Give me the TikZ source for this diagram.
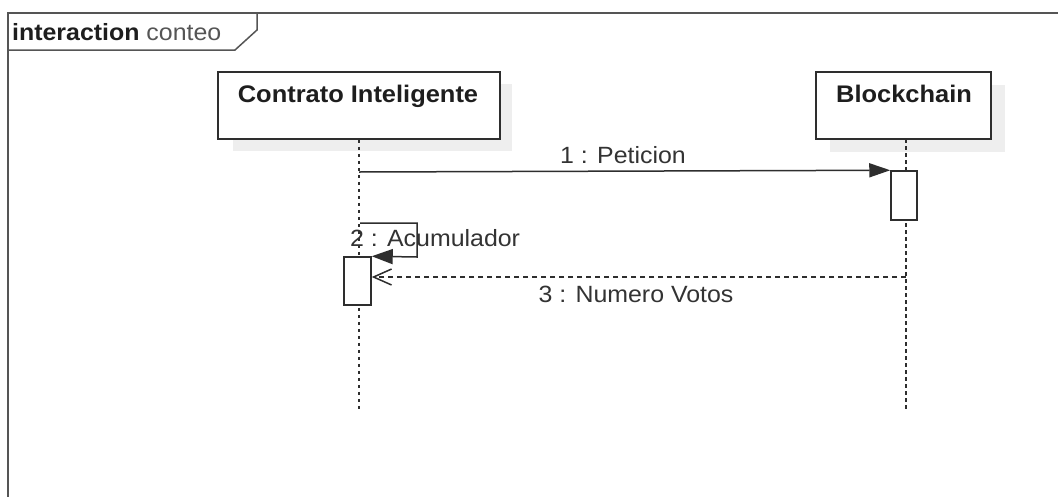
\documentclass[tikz,border=0pt]{standalone}
\usepackage{fontspec}
\setmainfont{Liberation Sans}
\usepackage{graphicx}
\usetikzlibrary{arrows.meta,calc}
\definecolor{lineC}{HTML}{2E2E2E}
\definecolor{frameC}{HTML}{555555}
\definecolor{shadowC}{HTML}{EEEEEE}
\definecolor{txtC}{HTML}{1E1E1E}
\definecolor{msgC}{HTML}{333333}
\newcommand{\wide}[1]{\scalebox{1.06}[1]{#1}}
\tikzset{
  lifebox/.style={draw=lineC, line width=1.5pt, fill=white, minimum height=67pt, inner sep=0pt},
  shadowbox/.style={fill=shadowC, draw=none, minimum height=67pt, inner sep=0pt},
  boxtext/.style={font=\fontsize{24}{27}\selectfont\bfseries, text=txtC, anchor=base, inner sep=0pt},
  lifeline/.style={draw=lineC, line width=1.5pt, dash pattern=on 3.5pt off 3.5pt},
  actbox/.style={draw=lineC, line width=1.5pt, fill=white, inner sep=0pt},
  msg/.style={draw=lineC, line width=1.5pt},
  msgtext/.style={font=\fontsize{23.5}{26}\selectfont, text=msgC, anchor=base, inner sep=0pt},
  framel/.style={draw=frameC, line width=1.5pt},
}
\begin{document}
\begin{tikzpicture}[x=1pt,y=-1pt]
\useasboundingbox (0,0) rectangle (1058,496);
\fill[white] (0,0) rectangle (1058,496);
% frame
\draw[framel] (1070,13) -- (8,13) -- (8,510);
\draw[framel] (8,50) -- (235,50) -- (257,30) -- (257,13);
\node[anchor=base west, inner sep=0pt, text=txtC] (title) at (12,40)
  {\wide{\fontsize{23.5}{26}\selectfont\textbf{interaction} \textcolor{frameC}{conteo}}};
% shadows
\node[shadowbox, minimum width=279pt] (cish) at (372.5,117.5) {};
\node[shadowbox, minimum width=175pt] (bcsh) at (917.5,118) {};
% lifeline boxes
\node[lifebox, minimum width=282pt] (ci) at (359,105.5) {};
\node[lifebox, minimum width=175pt] (bc) at (903.5,105.5) {};
\node[boxtext] (cit) at (358,102) {\wide{Contrato Inteligente}};
\node[boxtext] (bct) at (904,102) {\wide{Blockchain}};
% lifelines
\coordinate (ciend) at (359,412);
\coordinate (bcend) at (906,412);
\draw[lifeline] (ci.south -| ciend) -- (ciend);
\draw[lifeline] (906,139) -- (bcend);
% activations
\node[actbox, minimum width=26pt, minimum height=49pt] (act1) at (904,195.5) {};
\node[actbox, minimum width=27pt, minimum height=48pt] (act2) at (357.5,281) {};
% message 1
\coordinate (m1s) at (359,172);
\draw[msg, -{Triangle[length=21pt,width=14pt]}] (m1s) -- (act1.north west);
\node[msgtext] (m1t) at (623,163) {\wide{1 : Peticion}};
% message 2 (self)
\coordinate (m2s) at (360,223);
\draw[msg, -{Triangle[length=21pt,width=15pt]}] (m2s) -- (417,223) -- (417,257) -- (act2.north east);
\node[msgtext, anchor=base west] (m2t) at (350,246) {\wide{2 : Acumulador}};
% message 3 (return)
\coordinate (m3s) at (906,277);
\draw[msg, dash pattern=on 5pt off 4pt, -{Straight Barb[length=18pt,width=16pt]}] (m3s) -- (act2.east |- m3s);
\node[msgtext] (m3t) at (636,302) {\wide{3 : Numero Votos}};
\end{tikzpicture}
\end{document}
